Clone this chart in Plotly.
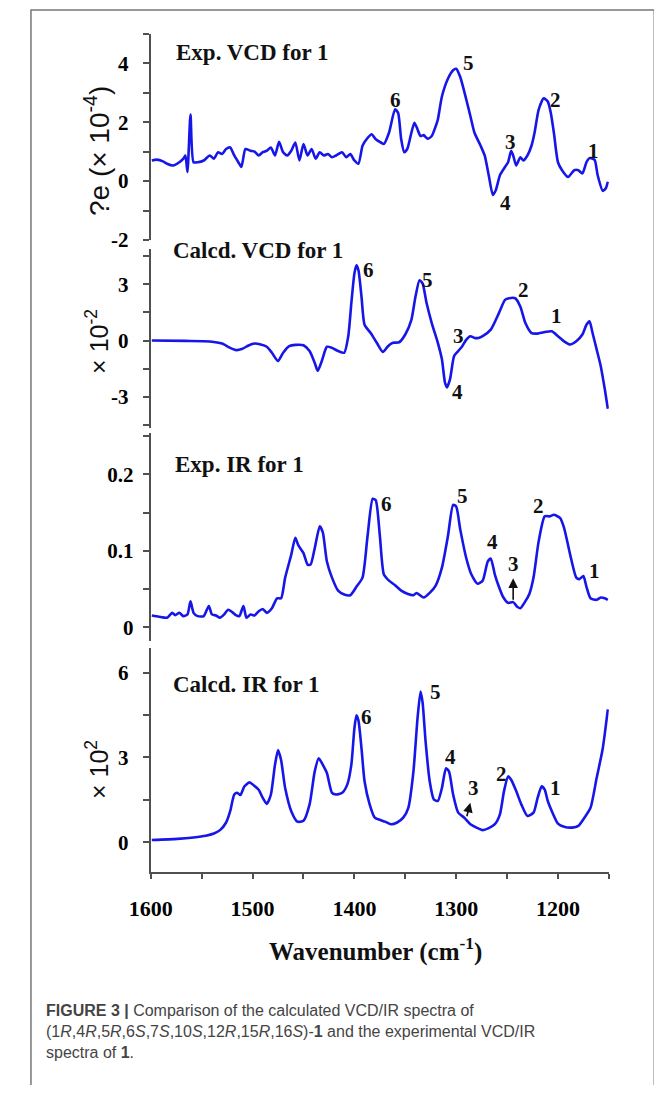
import plotly.graph_objects as go

# The page body has an 8px default margin, so the figure is drawn 8px in from
# the window corner; the layout below is expressed in window pixels.
WIN_W, WIN_H = 662, 1093
OFF = 8
W, H = WIN_W - OFF, WIN_H - 2 * OFF

# ---------------- data ----------------
# Panel 1: Exp. VCD, ?e (x 10^-4)
exp_vcd_wn = [1599, 1594, 1588, 1584, 1578, 1572, 1568, 1566, 1564, 1561, 1558, 1554, 1548, 1542,
              1538, 1534, 1530, 1526, 1522, 1518, 1514, 1511, 1507, 1502, 1498, 1494, 1490, 1486,
              1482, 1478, 1474, 1470, 1466, 1462, 1458, 1454, 1450, 1446, 1442, 1438, 1434, 1430,
              1426, 1422, 1418, 1412, 1408, 1404, 1400, 1396, 1392, 1388, 1383, 1379, 1374, 1371,
              1366, 1360, 1357, 1354, 1351, 1348, 1344, 1341, 1338, 1335, 1332, 1328, 1324, 1320,
              1318, 1314, 1308, 1303, 1300, 1296, 1290, 1286, 1282, 1276, 1272, 1268, 1264, 1261,
              1257, 1252, 1249, 1246, 1244, 1241, 1237, 1234, 1230, 1226, 1223, 1219, 1214, 1210,
              1207, 1204, 1200, 1196, 1190, 1184, 1180, 1176, 1172, 1169, 1164, 1161, 1156, 1153, 1151]
exp_vcd_val = [0.70, 0.73, 0.67, 0.59, 0.53, 0.64, 0.76, 0.87, 0.31, 2.26, 0.64, 0.64, 0.70, 0.87,
               0.76, 0.98, 0.92, 1.09, 1.14, 0.87, 0.64, 0.48, 1.09, 1.03, 1.00, 0.87, 0.98, 1.03,
               1.14, 0.87, 1.33, 0.98, 0.87, 1.03, 1.31, 0.70, 1.26, 0.87, 1.09, 0.76, 0.98, 0.87,
               0.92, 0.81, 0.87, 0.98, 0.81, 0.92, 0.70, 0.59, 1.20, 1.42, 1.59, 1.42, 1.31, 1.26,
               1.64, 2.44, 2.31, 1.42, 0.98, 1.09, 1.64, 1.98, 1.76, 1.53, 1.56, 1.44, 1.53, 1.87,
               2.09, 2.87, 3.48, 3.76, 3.81, 3.53, 2.76, 2.20, 1.64, 1.20, 0.87, 0.20, -0.47, -0.30,
               0.20, 0.48, 0.64, 1.03, 0.87, 0.53, 0.81, 0.70, 0.87, 1.20, 1.64, 2.42, 2.81, 2.70,
               2.31, 1.64, 0.64, 0.37, 0.14, 0.37, 0.37, 0.26, 0.64, 0.78, 0.72, 0.20, -0.33, -0.24, -0.02]

# Panel 2: Calcd. VCD (x 10^-2)
calc_vcd_wn = [1599, 1566, 1542, 1530, 1522, 1516, 1510, 1504, 1498, 1492, 1486, 1481, 1475, 1470,
               1464, 1458, 1450, 1444, 1439, 1436, 1432, 1427, 1422, 1416, 1410, 1406, 1403, 1400,
               1398, 1396, 1393, 1390, 1384, 1378, 1372, 1367, 1362, 1356, 1350, 1344, 1340, 1336,
               1333, 1329, 1324, 1318, 1314, 1311, 1309, 1306, 1302, 1298, 1294, 1290, 1286, 1282,
               1278, 1274, 1266, 1258, 1252, 1248, 1242, 1237, 1232, 1226, 1220, 1214, 1206, 1200,
               1194, 1188, 1182, 1176, 1172, 1169, 1166, 1162, 1158, 1154, 1151]
calc_vcd_val = [0.0, -0.02, -0.05, -0.16, -0.39, -0.51, -0.44, -0.26, -0.16, -0.21, -0.33, -0.65, -1.09, -0.65,
                -0.30, -0.23, -0.25, -0.56, -1.18, -1.61, -1.09, -0.33, -0.39, -0.56, -0.65, 0.23, 1.98, 3.56,
                4.00, 3.74, 2.33, 0.84, 0.40, -0.12, -0.61, -0.30, -0.12, -0.09, 0.32, 1.10, 2.33, 3.21,
                3.04, 1.98, 0.93, -0.12, -1.00, -2.23, -2.49, -2.05, -0.82, -0.56, -0.30, 0.05, 0.23, 0.14,
                0.14, 0.23, 0.58, 1.46, 2.16, 2.25, 2.25, 1.81, 0.93, 0.40, 0.37, 0.44, 0.49, 0.23,
                -0.04, -0.21, -0.04, 0.32, 0.84, 1.02, 0.40, -0.47, -1.35, -2.58, -3.63]

# Panel 3: Exp. IR
exp_ir_wn = [1599, 1592, 1584, 1579, 1576, 1572, 1568, 1564, 1561, 1558, 1554, 1548, 1543, 1540,
             1536, 1532, 1528, 1524, 1520, 1516, 1513, 1509, 1506, 1502, 1498, 1494, 1490, 1486,
             1481, 1476, 1472, 1468, 1462, 1458, 1455, 1450, 1446, 1443, 1439, 1434, 1431, 1427,
             1422, 1416, 1410, 1404, 1398, 1392, 1387, 1382, 1379, 1375, 1371, 1366, 1360, 1354,
             1348, 1342, 1339, 1332, 1326, 1320, 1314, 1308, 1303, 1300, 1296, 1290, 1285, 1279,
             1274, 1269, 1266, 1262, 1258, 1254, 1249, 1244, 1240, 1237, 1233, 1228, 1224, 1219,
             1213, 1208, 1204, 1198, 1194, 1188, 1182, 1179, 1175, 1172, 1168, 1162, 1158, 1154, 1151]
exp_ir_val = [0.0156, 0.014, 0.0126, 0.019, 0.016, 0.019, 0.0147, 0.0168, 0.034, 0.019, 0.0147, 0.0147, 0.028, 0.017,
              0.0156, 0.0126, 0.0168, 0.023, 0.020, 0.0156, 0.0147, 0.028, 0.0126, 0.0168, 0.0156, 0.021, 0.024, 0.019,
              0.025, 0.038, 0.038, 0.065, 0.095, 0.117, 0.107, 0.097, 0.082, 0.082, 0.103, 0.132, 0.124, 0.086,
              0.065, 0.048, 0.043, 0.042, 0.053, 0.065, 0.120, 0.168, 0.166, 0.120, 0.069, 0.061, 0.055, 0.048,
              0.044, 0.042, 0.045, 0.039, 0.045, 0.055, 0.078, 0.120, 0.160, 0.158, 0.128, 0.090, 0.069, 0.057,
              0.061, 0.086, 0.090, 0.069, 0.053, 0.040, 0.032, 0.033, 0.027, 0.025, 0.032, 0.044, 0.065, 0.112,
              0.145, 0.145, 0.147, 0.143, 0.130, 0.095, 0.065, 0.063, 0.067, 0.053, 0.038, 0.036, 0.039, 0.038, 0.036]

# Panel 4: Calcd. IR (x 10^2)
calc_ir_wn = [1599, 1574, 1558, 1546, 1538, 1532, 1526, 1522, 1518, 1515, 1512, 1508, 1503, 1499,
              1494, 1490, 1486, 1482, 1478, 1475, 1472, 1468, 1462, 1456, 1450, 1444, 1439, 1435,
              1431, 1427, 1422, 1418, 1412, 1407, 1403, 1400, 1398, 1396, 1393, 1390, 1385, 1380,
              1374, 1370, 1364, 1358, 1352, 1347, 1342, 1338, 1335, 1333, 1330, 1326, 1322, 1318,
              1314, 1310, 1307, 1303, 1298, 1292, 1286, 1280, 1274, 1268, 1262, 1257, 1253, 1249,
              1246, 1241, 1236, 1230, 1224, 1220, 1216, 1213, 1210, 1206, 1200, 1194, 1186, 1180,
              1174, 1168, 1162, 1156, 1151]
calc_ir_val = [0.08, 0.12, 0.17, 0.23, 0.31, 0.43, 0.70, 1.10, 1.69, 1.75, 1.67, 1.98, 2.12, 2.02,
               1.86, 1.57, 1.36, 1.69, 2.74, 3.26, 2.91, 1.92, 1.10, 0.73, 0.76, 1.34, 2.50, 2.97,
               2.74, 2.45, 1.75, 1.69, 1.75, 2.04, 2.74, 4.02, 4.49, 4.31, 3.32, 2.16, 1.34, 0.87,
               0.78, 0.73, 0.64, 0.70, 0.87, 1.22, 2.50, 4.37, 5.33, 4.95, 3.55, 2.16, 1.52, 1.46,
               1.92, 2.62, 2.50, 1.69, 1.05, 0.87, 0.64, 0.52, 0.43, 0.50, 0.64, 0.99, 1.81, 2.33,
               2.21, 1.81, 1.34, 0.93, 1.05, 1.57, 1.98, 1.86, 1.46, 1.10, 0.66, 0.55, 0.52, 0.58,
               0.87, 1.22, 2.27, 3.32, 4.70]

# Axis ticks
x_tickvals = [1600, 1500, 1400, 1300, 1200]
x_ticktext = ["1600", "1500", "1400", "1300", "1200"]
x_minorvals = [1550, 1450, 1350, 1250, 1150]

y1_tickvals = [-2, 0, 2, 4]
y1_ticktext = ["-2", "0", "2", "4"]
y1_minorvals = [-1, 1, 3, 5]
y2_tickvals = [-3, 0, 3]
y2_ticktext = ["-3", "0", "3"]
y2_minorvals = [-4.5, -1.5, 1.5, 4.5]
y3_tickvals = [0, 0.1, 0.2]
y3_ticktext = ["0", "0.1", "0.2"]
y3_minorvals = [0.05, 0.15, 0.25]
y4_tickvals = [0, 3, 6]
y4_ticktext = ["0", "3", "6"]
y4_minorvals = [1.5, 4.5]

# Peak labels: (axis, wavenumber, value, text)
peak_labels = [
    ("y", 1360, 2.76, "6"), ("y", 1288, 3.99, "5"), ("y", 1247, 1.32, "3"),
    ("y", 1252, -0.74, "4"), ("y", 1202, 2.76, "2"), ("y", 1165, 1.02, "1"),
    ("y2", 1386, 3.75, "6"), ("y2", 1328, 3.23, "5"), ("y2", 1298, 0.23, "3"),
    ("y2", 1299, -2.75, "4"), ("y2", 1234, 2.70, "2"), ("y2", 1201, 1.28, "1"),
    ("y3", 1368, 0.161, "6"), ("y3", 1294, 0.171, "5"), ("y3", 1264.5, 0.112, "4"),
    ("y3", 1219, 0.158, "2"), ("y3", 1164, 0.074, "1"),
    ("y4", 1388, 4.43, "6"), ("y4", 1320, 5.30, "5"), ("y4", 1306, 3.00, "4"),
    ("y4", 1255, 2.41, "2"), ("y4", 1202, 1.91, "1"),
]
# Labels "3" with an arrow rising to them: (axis, label wn, label value, tail wn, tail value)
arrow_labels = [
    ("y3", 1244, 0.083, 1244, 0.036, "3"),
    ("y4", 1282.5, 1.91, 1289.5, 0.92, "3"),
]

# ---------------- figure ----------------
def px(x):
    return (x - OFF) / W


def py(y):
    return 1 - (y - OFF) / H


BLUE = "#1616e8"
AXC = "#505050"
SERIF = "Liberation Serif"
SANS = "Liberation Sans"

fig = go.Figure()
series = [(exp_vcd_wn, exp_vcd_val, "y"), (calc_vcd_wn, calc_vcd_val, "y2"),
          (exp_ir_wn, exp_ir_val, "y3"), (calc_ir_wn, calc_ir_val, "y4")]
for xs, ys, ya in series:
    fig.add_trace(go.Scatter(x=xs, y=ys, xaxis="x", yaxis=ya, mode="lines",
                             line=dict(color=BLUE, width=2.6, shape="spline", smoothing=0.6),
                             hoverinfo="skip", showlegend=False))

yfont = dict(family=SERIF, size=21, color="black", weight="bold")


def yax(dom_top, dom_bot, rng, tv, tt, mv, standoff=10):
    return dict(domain=[py(dom_bot), py(dom_top)], range=rng, anchor="x",
                showline=True, linecolor=AXC, linewidth=2,
                ticks="outside", ticklen=6, tickwidth=2, tickcolor=AXC,
                tickmode="array", tickvals=tv, ticktext=tt,
                minor=dict(ticks="outside", ticklen=6, tickwidth=2, tickcolor=AXC,
                           tickmode="array", tickvals=mv, showgrid=False),
                showgrid=False, zeroline=False, tickfont=yfont,
                ticklabelstandoff=standoff, fixedrange=True)


fig.update_layout(
    width=W, height=H,
    margin=dict(l=0, r=0, t=0, b=0),
    paper_bgcolor="white", plot_bgcolor="white",
    showlegend=False,
    xaxis=dict(domain=[px(133), px(607)], range=[1600, 1150], anchor="y4",
               showline=True, linecolor=AXC, linewidth=2,
               ticks="outside", ticklen=5, tickwidth=2, tickcolor=AXC,
               tickmode="array", tickvals=x_tickvals, ticktext=x_ticktext,
               minor=dict(ticks="outside", ticklen=5, tickwidth=2, tickcolor=AXC,
                          tickmode="array", tickvals=x_minorvals, showgrid=False),
               showgrid=False, zeroline=False,
               tickfont=dict(family=SERIF, size=22, color="black", weight="bold"),
               ticklabelstandoff=11, fixedrange=True),
    yaxis=yax(34, 242.7, [-2, 5], y1_tickvals, y1_ticktext, y1_minorvals),
    yaxis2=yax(251.7, 432.7, [-4.65, 4.87], y2_tickvals, y2_ticktext, y2_minorvals),
    yaxis3=yax(437.3, 648.3, [-0.018, 0.2545], y3_tickvals, y3_ticktext, y3_minorvals, standoff=5),
    yaxis4=yax(655, 881.7, [-1.05, 6.88], y4_tickvals, y4_ticktext, y4_minorvals),
)

ann = []
# panel titles
for text, x, y in [("Exp. VCD for 1", 157, 53), ("Calcd. VCD for 1", 154, 253),
                   ("Exp. IR for 1", 156, 470), ("Calcd. IR for 1", 154, 692)]:
    ann.append(dict(text=text, x=px(x), y=py(y), xref="paper", yref="paper",
                    xanchor="left", yanchor="middle", showarrow=False,
                    font=dict(family=SERIF, size=23, color="#111", weight="bold")))
# y-axis titles
for text, y, size in [("?e (× 10<sup>-4</sup>)", 153, 28), ("× 10<sup>-2</sup>", 345, 25),
                      ("× 10<sup>2</sup>", 778, 25)]:
    ann.append(dict(text=text, x=px(78), y=py(y), xref="paper", yref="paper",
                    xanchor="center", yanchor="middle", textangle=-90, showarrow=False,
                    font=dict(family=SANS, size=size, color="#111")))
# x title
ann.append(dict(text="Wavenumber (cm<sup>-1</sup>)", x=px(366), y=py(960), xref="paper", yref="paper",
                xanchor="center", yanchor="middle", showarrow=False,
                font=dict(family=SERIF, size=25, color="#111", weight="bold")))
# peak labels
for ya, wn, v, t in peak_labels:
    ann.append(dict(text=t, x=wn, y=v, xref="x", yref=ya, showarrow=False,
                    xanchor="center", yanchor="middle",
                    font=dict(family=SERIF, size=21, color="#111", weight="bold")))
# "3" labels with arrows pointing up at them
for ya, lx, ly, tx, ty, t in arrow_labels:
    ann.append(dict(text=t, x=tx, y=ty, xref="x", yref=ya, ax=lx, ay=ly,
                    axref="x", ayref=ya, showarrow=True, arrowside="start",
                    startarrowhead=2, startarrowsize=1.2, arrowwidth=1.6, arrowcolor="#111",
                    startstandoff=1, standoff=0,
                    font=dict(family=SERIF, size=21, color="#111", weight="bold")))
# caption
cap_font = dict(family=SANS, size=16, color="#444")
caption = [
    ("<b>FIGURE 3 |</b> Comparison of the calculated VCD/IR spectra of", 1022),
    ("(1<i>R</i>,4<i>R</i>,5<i>R</i>,6<i>S</i>,7<i>S</i>,10<i>S</i>,12<i>R</i>,15<i>R</i>,16<i>S</i>)-<b>1</b> and the experimental VCD/IR", 1043),
    ("spectra of <b>1</b>.", 1064),
]
for text, y in caption:
    ann.append(dict(text=text, x=px(22), y=py(y), xref="paper", yref="paper",
                    xanchor="left", yanchor="middle", showarrow=False, font=cap_font))
fig.update_layout(annotations=ann)

# outer frame
fig.add_shape(type="rect", xref="paper", yref="paper", x0=px(9), x1=px(654), y0=-0.05, y1=py(10),
              line=dict(color="#777", width=1.5), fillcolor="rgba(0,0,0,0)", layer="below")

fig.write_html("out.html")
